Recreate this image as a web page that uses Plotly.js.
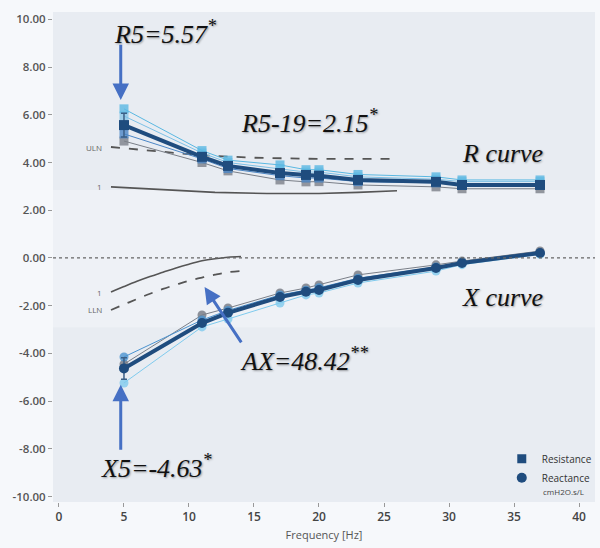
<!DOCTYPE html>
<html>
<head>
<meta charset="utf-8">
<script src="https://cdn.plot.ly/plotly-3.0.1.min.js"></script>
<style>html,body{margin:0;padding:0;background:#f6f8fb;}#chart{width:600px;height:548px;}</style>
</head>
<body>
<div id="chart"></div>
<script>
// Frequencies (Hz)
const freq = [5, 11, 13, 17, 19, 20, 23, 29, 31, 37];
// Resistance (cmH2O.s/L) - main (mean) and individual trials
const R_main = [5.57, 4.24, 3.86, 3.56, 3.48, 3.45, 3.27, 3.19, 3.06, 3.06];
const R_cyan = [6.25, 4.50, 4.10, 3.90, 3.70, 3.70, 3.50, 3.40, 3.27, 3.27];
const R_light = [5.95, 4.40, 4.00, 3.75, 3.60, 3.60, 3.40, 3.30, 3.20, 3.20];
const R_blue = [5.20, 4.15, 3.75, 3.45, 3.35, 3.35, 3.20, 3.15, 3.05, 3.05];
const R_gray = [4.90, 4.00, 3.65, 3.27, 3.19, 3.20, 3.06, 2.98, 2.90, 2.90];
const R_err = [0.5, 0, 0, 0, 0, 0, 0, 0, 0, 0];
// Reactance
const X_main = [-4.63, -2.73, -2.30, -1.64, -1.42, -1.34, -0.92, -0.42, -0.21, 0.21];
const X_blue = [-4.15, -2.60, -2.20, -1.55, -1.35, -1.25, -0.85, -0.38, -0.18, 0.20];
const X_gray = [-4.45, -2.39, -2.10, -1.47, -1.26, -1.13, -0.71, -0.29, -0.13, 0.29];
const X_cyan = [-5.24, -2.89, -2.56, -1.89, -1.55, -1.47, -1.05, -0.55, -0.28, 0.15];
const X_err = [0.45, 0, 0, 0, 0, 0, 0, 0, 0, 0];
// Reference curves
const refR_f = [4, 5, 8, 11, 15, 20, 26];
const R_ULN = [4.65, 4.60, 4.45, 4.30, 4.20, 4.15, 4.15];
const refR1_f = [4, 8, 12, 16, 20, 23, 26];
const R_pred = [2.98, 2.85, 2.75, 2.70, 2.70, 2.75, 2.82];
const refX_f = [4, 5, 6, 7, 8, 9, 10, 11, 12, 13, 14];
const X_pred = [-1.43, -1.20, -0.98, -0.78, -0.60, -0.42, -0.26, -0.12, -0.03, 0.03, 0.06];
const X_LLN = [-2.18, -1.95, -1.72, -1.50, -1.30, -1.12, -0.95, -0.82, -0.70, -0.60, -0.55];
// Axis ticks
const yTicks = [10, 8, 6, 4, 2, 0, -2, -4, -6, -8, -10];
const yTickText = ["10.00", "8.00", "6.00", "4.00", "2.00", "0.00", "-2.00", "-4.00", "-6.00", "-8.00", "-10.00"];
const xTicks = [0, 5, 10, 15, 20, 25, 30, 35, 40];

const navy = '#1f4c7e';
function thin(y, color, sym, opac) {
  return {x: freq, y: y, mode: 'lines+markers', showlegend: false, hoverinfo: 'skip',
    line: {color: color, width: 1}, marker: {symbol: sym, size: 9, color: color, opacity: opac}};
}
const traces = [
  {x: refR_f, y: R_ULN, mode: 'lines', line: {color: '#555', width: 1.8, dash: 'dash'}, showlegend: false},
  {x: refR1_f, y: R_pred, mode: 'lines', line: {color: '#555', width: 1.6}, showlegend: false},
  {x: refX_f, y: X_pred, mode: 'lines', line: {color: '#555', width: 1.6, shape: 'spline'}, showlegend: false},
  {x: refX_f, y: X_LLN, mode: 'lines', line: {color: '#555', width: 1.8, dash: 'dash', shape: 'spline'}, showlegend: false},
  thin(R_gray, '#7a7f88', 'square', 0.8),
  thin(R_blue, '#4b86c6', 'square', 0.8),
  thin(R_light, '#7cc0e6', 'square', 0.7),
  thin(R_cyan, '#5ab8e2', 'square', 0.8),
  thin(X_cyan, '#7fcbee', 'circle', 0.8),
  thin(X_gray, '#7a7f88', 'circle', 0.85),
  thin(X_blue, '#4b93d0', 'circle', 0.8),
  {x: freq, y: R_main, mode: 'lines+markers', showlegend: false, line: {color: navy, width: 4},
    marker: {symbol: 'square', size: 10, color: navy},
    error_y: {type: 'data', array: R_err, color: '#3b5f86', thickness: 1.5, width: 3}},
  {x: freq, y: X_main, mode: 'lines+markers', showlegend: false, line: {color: navy, width: 4},
    marker: {symbol: 'circle', size: 10, color: navy},
    error_y: {type: 'data', array: X_err, color: '#3b5f86', thickness: 1.5, width: 3}},
  {x: [null], y: [null], mode: 'markers', name: 'Resistance', marker: {symbol: 'square', size: 9, color: navy}},
  {x: [null], y: [null], mode: 'markers', name: 'Reactance', marker: {symbol: 'circle', size: 10, color: navy}}
];

const serif = {family: 'Liberation Serif, Times New Roman, serif', size: 26, color: '#111', style: 'italic',
  shadow: '1px 1px 2px rgba(0,0,0,0.35)'};
const arrowC = '#4670c4';
function arrow(x0, y0, x1, y1) {
  return {x: x1, y: y1, ax: x0, ay: y0, xref: 'x', yref: 'y', axref: 'x', ayref: 'y', text: '',
    showarrow: true, arrowhead: 2, arrowsize: 1.1, arrowwidth: 3, arrowcolor: arrowC};
}
const small = {family: 'Open Sans, Noto Sans, sans-serif', size: 8, color: '#666'};
const annotations = [
  {x: 8.2, y: 9.45, xref: 'x', yref: 'y', text: 'R5=5.57<sup>*</sup>', showarrow: false, font: serif},
  {x: 19.3, y: 5.70, xref: 'x', yref: 'y', text: 'R5-19=2.15<sup>*</sup>', showarrow: false, font: serif},
  {x: 34.1, y: 4.38, xref: 'x', yref: 'y', text: 'R curve', showarrow: false, font: serif},
  {x: 34.1, y: -1.64, xref: 'x', yref: 'y', text: 'X curve', showarrow: false, font: serif},
  {x: 18.85, y: -4.25, xref: 'x', yref: 'y', text: 'AX=48.42<sup>**</sup>', showarrow: false, font: serif},
  {x: 7.55, y: -8.75, xref: 'x', yref: 'y', text: 'X5=-4.63<sup>*</sup>', showarrow: false, font: serif},
  arrow(4.75, 9.0, 4.75, 6.62),
  arrow(4.75, -8.1, 4.75, -5.32),
  arrow(14.1, -3.6, 11.2, -1.22),
  {x: 3.5, y: 4.65, xref: 'x', yref: 'y', text: 'ULN', showarrow: false, xanchor: 'right', font: small},
  {x: 3.5, y: 2.98, xref: 'x', yref: 'y', text: '1', showarrow: false, xanchor: 'right', font: small},
  {x: 3.5, y: -1.43, xref: 'x', yref: 'y', text: '1', showarrow: false, xanchor: 'right', font: small},
  {x: 3.5, y: -2.18, xref: 'x', yref: 'y', text: 'LLN', showarrow: false, xanchor: 'right', font: small},
  {x: 37.1, y: -9.78, xref: 'x', yref: 'y', text: 'cmH2O.s/L', showarrow: false, xanchor: 'left',
    font: {family: 'Open Sans, Noto Sans, sans-serif', size: 8, color: '#444'}}
];

const layout = {
  width: 600, height: 548,
  margin: {l: 53, r: 5, t: 12, b: 46, autoexpand: false},
  paper_bgcolor: '#f6f8fb', plot_bgcolor: '#e8ecf2',
  showlegend: true,
  legend: {x: 0.828, y: 0.118, xanchor: 'left', yanchor: 'top', bgcolor: 'rgba(0,0,0,0)',
    font: {family: 'Open Sans, Noto Sans, sans-serif', size: 10, color: '#333'}, tracegroupgap: 0, itemwidth: 30},
  xaxis: {range: [-0.46, 41.23], tickvals: xTicks, ticks: 'outside', ticklen: 4, tickcolor: '#999', tickwidth: 1,
    showgrid: false, zeroline: false, showline: false, automargin: false,
    tickfont: {family: 'Open Sans, Noto Sans, sans-serif', size: 12, color: '#444', weight: 600},
    title: {text: 'Frequency [Hz]', standoff: 6, font: {family: 'Open Sans, Noto Sans, sans-serif', size: 11, color: '#555'}}},
  yaxis: {range: [-10.23, 10.31], tickvals: yTicks, ticktext: yTickText, ticks: 'outside', ticklen: 4, tickcolor: '#999',
    showgrid: false, zeroline: false, showline: false, automargin: false,
    tickfont: {family: 'Open Sans, Noto Sans, sans-serif', size: 11.5, color: '#555', weight: 600}},
  shapes: [
    {type: 'rect', xref: 'paper', yref: 'y', x0: 0, x1: 1, y0: -2.9, y1: 2.85, fillcolor: '#eef1f6', line: {width: 0}, layer: 'below'},
    {type: 'line', xref: 'paper', yref: 'y', x0: 0, x1: 1, y0: 0, y1: 0, line: {color: '#666', width: 1.2, dash: 'dot'}}
  ],
  annotations: annotations
};
Plotly.newPlot('chart', traces, layout, {displayModeBar: false, staticPlot: true});
</script>
</body>
</html>
